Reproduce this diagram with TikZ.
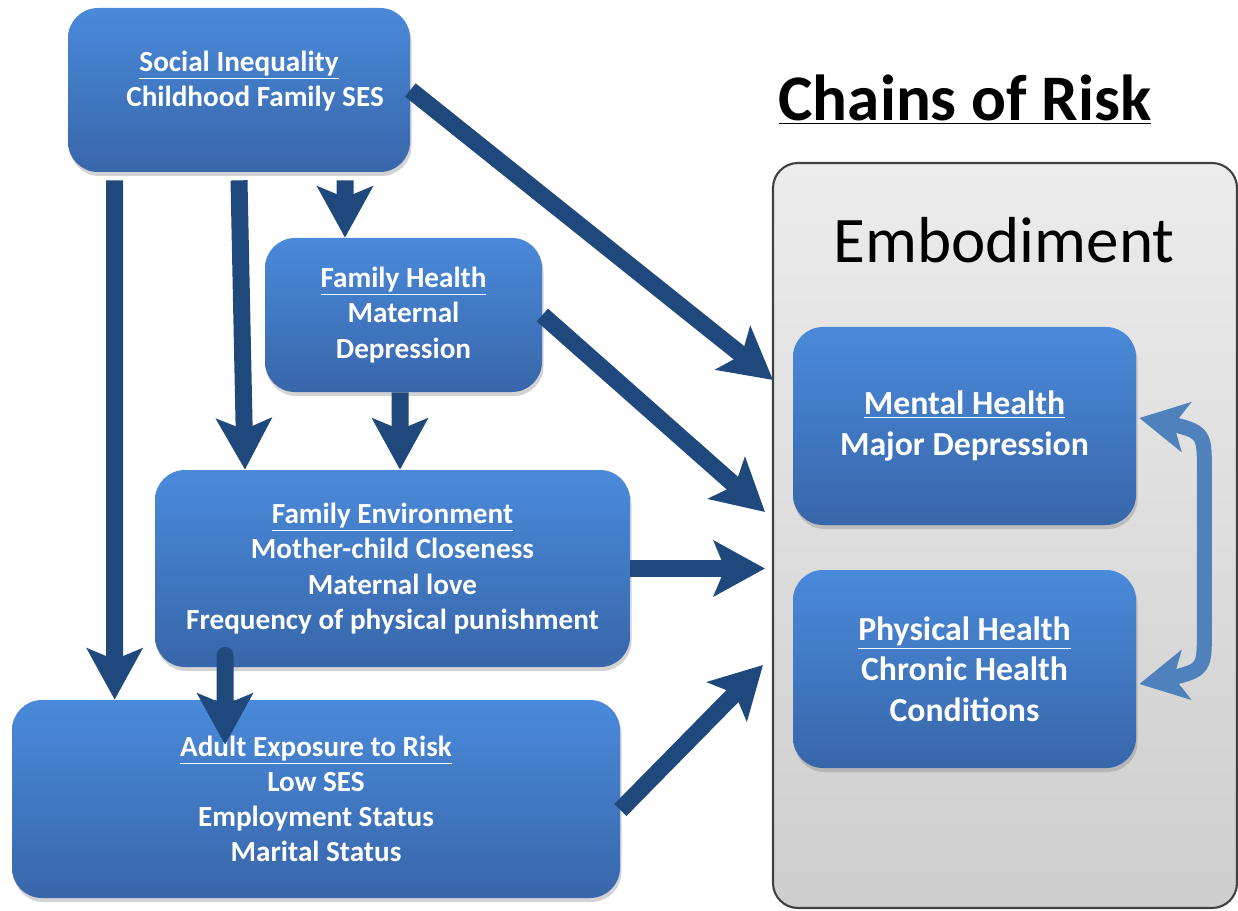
\documentclass[tikz,border=0pt]{standalone}
\usepackage{fontspec}
\setmainfont{Carlito}
\usetikzlibrary{arrows.meta,shadows,bending}

\definecolor{boxtop}{RGB}{74,138,218}
\definecolor{boxbot}{RGB}{56,102,170}
\definecolor{arrowblue}{RGB}{31,73,125}
\definecolor{loopblue}{RGB}{79,129,189}
\definecolor{embtop}{RGB}{236,236,236}
\definecolor{embbot}{RGB}{206,206,206}

\begin{document}
\begin{tikzpicture}[
  riskbox/.style={rounded corners=0.6cm, top color=boxtop, bottom color=boxbot,
    text=white, align=center, inner sep=0pt,
    font=\fontsize{16.6}{20}\selectfont\bfseries,
    drop shadow={opacity=0.35,shadow xshift=0.03cm,shadow yshift=-0.08cm}},
  healthbox/.style={riskbox, minimum width=6.86cm, minimum height=3.96cm,
    font=\fontsize{19.2}{23}\selectfont\bfseries},
  fat/.style={arrowblue, line width=0.34cm,
    -{Stealth[length=1.02cm,width=1.1cm,inset=0.22cm]}},
  loop/.style={loopblue, line width=0.3cm,
    {Stealth[length=0.95cm,width=1.0cm,inset=0.25cm]}-{Stealth[length=0.95cm,width=1.0cm,inset=0.25cm]}}
]
\useasboundingbox (0,0) rectangle (24.76,-18.22);

% grey panel on the right
\node[draw=black!75, line width=1.2pt, rounded corners=0.5cm, top color=embtop, bottom color=embbot,
  minimum width=9.28cm, minimum height=14.9cm] (emb) at (20.10,-10.71) {};
\node[font=\fontsize{37}{44}\selectfont] (embtitle) at (20.08,-4.80) {Embodiment};
\node[font=\fontsize{37}{44}\selectfont\bfseries] (chains) at (19.30,-2.00) {\underline{Chains of Risk}};

% boxes on the left
\node[riskbox, minimum width=6.84cm, minimum height=3.28cm] (social) at (4.78,-1.80)
  {\underline{Social Inequality}\\\hspace*{0.64cm}Childhood Family SES\\[-0.24cm]\mbox{}};
\node[riskbox, minimum width=5.54cm, minimum height=3.08cm] (famhealth) at (8.07,-6.30)
  {\underline{Family Health}\\Maternal\\Depression};
\node[riskbox, minimum width=9.50cm, minimum height=3.94cm] (famenv) at (7.85,-11.37)
  {\underline{Family Environment}\\Mother-child Closeness\\Maternal love\\Frequency of physical punishment};
\node[riskbox, minimum width=12.16cm, minimum height=3.96cm] (adult) at (6.32,-15.98)
  {\underline{Adult Exposure to Risk}\\Low SES\\Employment Status\\Marital Status};

% boxes in the panel
\node[healthbox] (mental) at (19.29,-8.52) {\underline{Mental Health}\\Major Depression};
\node[healthbox] (physical) at (19.29,-13.38) {\underline{Physical Health}\\Chronic Health\\Conditions};

% where the arrows meet the panel
\coordinate (tipA) at (15.46,-7.60);
\coordinate (tipB) at (15.30,-10.24);
\coordinate (tipC) at (15.30,-11.37);
\coordinate (tipD) at (15.26,-13.30);

\draw[fat] (social.east) -- (tipA);
\draw[fat] ([xshift=0.94cm,yshift=-0.16cm]social.south west) -- ([xshift=2.06cm]adult.north west);
\draw[fat] ([yshift=-0.16cm]social.south) -- ([xshift=-2.95cm]famenv.north);
\draw[fat] ([xshift=2.12cm,yshift=-0.16cm]social.south) -- ([xshift=-1.17cm]famhealth.north);
\draw[fat] (famhealth.east) -- (tipB);
\draw[fat] ([xshift=-0.07cm]famhealth.south) -- ([xshift=0.15cm]famenv.north);
\draw[fat] (famenv.east) -- (tipC);
\draw[fat, line cap=round] ([xshift=-3.35cm,yshift=0.24cm]famenv.south) -- ([xshift=-1.82cm,yshift=-0.9cm]adult.north);
\draw[fat] ([yshift=-0.22cm]adult.east) -- (tipD);

% two-way link between the health boxes
\coordinate (loopT) at ([xshift=0.06cm,yshift=0.16cm]mental.east);
\coordinate (loopB) at ([xshift=0.06cm,yshift=-0.30cm]physical.east);
\draw[loop] (loopT) .. controls +(1.3,-0.25) and +(0,0.8) .. ++(1.3,-1.0) -- ++(0,-3.32)
  .. controls +(0,-0.8) and +(1.3,0.25) .. (loopB);

\end{tikzpicture}
\end{document}
